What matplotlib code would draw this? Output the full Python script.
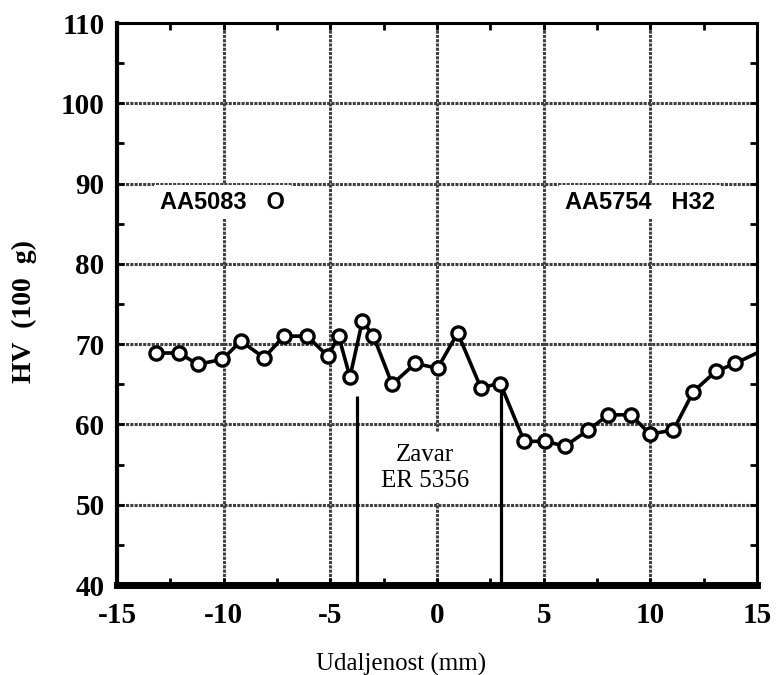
import matplotlib
matplotlib.use('Agg')
from matplotlib import pyplot as plt
import numpy as np

# hardness profile across the weld
dist_mm = [-13.17, -12.1, -11.22, -10.06, -9.19, -8.11, -7.17, -6.09, -5.11, -4.61,
           -4.08, -3.5, -2.98, -2.1, -1.02, 0.03, 0.97, 2.05, 2.97, 4.09,
           5.06, 6.0, 7.09, 8.03, 9.09, 9.98, 11.08, 12.02, 13.06, 13.97, 15.0]
hv = [68.9, 68.9, 67.5, 68.1, 70.4, 68.3, 71.0, 71.0, 68.5, 71.0,
      65.9, 72.9, 71.0, 65.0, 67.6, 67.0, 71.4, 64.6, 65.1, 57.9,
      57.9, 57.3, 59.3, 61.2, 61.2, 58.8, 59.3, 64.1, 66.6, 67.6, 68.9]

# weld zone boundaries
weld_x = [-3.74, 2.98]
weld_top = [63.6, 64.5]

x_ticks = [-15, -10, -5, 0, 5, 10, 15]
y_ticks = [40, 50, 60, 70, 80, 90, 100, 110]

serif = ['Liberation Serif', 'DejaVu Serif']
sans = ['Liberation Sans', 'DejaVu Sans']

fig = plt.figure(figsize=(7.76, 6.75), dpi=100)
ax = fig.add_axes([0.1508, 0.1333, 0.8247, 0.8326])

ax.set_xlim(-15, 15)
ax.set_ylim(40, 110)
ax.set_xticks(x_ticks)
ax.set_yticks(y_ticks)
ax.set_xticks(np.arange(-12.5, 15, 5), minor=True)
ax.set_yticks(np.arange(45, 110, 10), minor=True)
ax.set_xticklabels([str(v) for v in x_ticks], fontfamily=serif, fontweight='bold', fontsize=21)
ax.set_yticklabels([str(v) for v in y_ticks], fontfamily=serif, fontweight='bold', fontsize=21)
ax.tick_params(which='both', direction='in', top=True, right=True, length=5, width=2, color='black')
ax.tick_params(axis='x', which='major', pad=12)
ax.tick_params(axis='y', which='major', pad=9)

ax.grid(True, which='major', color='0.25', linewidth=2.2, linestyle=(0, (1, 0.4)))
ax.set_axisbelow(True)

for side, lw in [('bottom', 5), ('left', 3), ('top', 2.2), ('right', 2.2)]:
    ax.spines[side].set_linewidth(lw)
    ax.spines[side].set_zorder(4)

for xv, top in zip(weld_x, weld_top):
    ax.vlines(xv, 40, top, color='black', linewidth=2.3, zorder=3)

ax.plot(dist_mm, hv, color='black', linewidth=2.6, marker='o', markersize=9.5,
        markerfacecolor='white', markeredgecolor='black', markeredgewidth=2.4,
        markevery=list(range(len(dist_mm) - 1)), clip_on=True, zorder=5)

box = dict(boxstyle='square,pad=0.25', fc='white', ec='none')
ax.text(-10.07, 87.7, 'AA5083   O', ha='center', va='center', fontfamily=sans,
        fontweight='bold', fontsize=17, bbox=box, zorder=3)
ax.text(9.52, 87.7, 'AA5754   H32', ha='center', va='center', fontfamily=sans,
        fontweight='bold', fontsize=17, bbox=box, zorder=3)
ax.text(-0.55, 54.6, 'Zavar\nER 5356', ha='center', va='center', fontfamily=serif,
        fontsize=18, linespacing=1.25, zorder=3,
        bbox=dict(boxstyle='square,pad=0.45', fc='white', ec='none'))

fig.text(0.032, 0.539, 'HV  (100  g)', rotation=90, ha='center', va='center',
         fontfamily=serif, fontweight='bold', fontsize=20)
fig.text(0.517, 0.015, 'Udaljenost (mm)', ha='center', va='center',
         fontfamily=serif, fontsize=18)

fig.savefig('out.png', dpi=100)
